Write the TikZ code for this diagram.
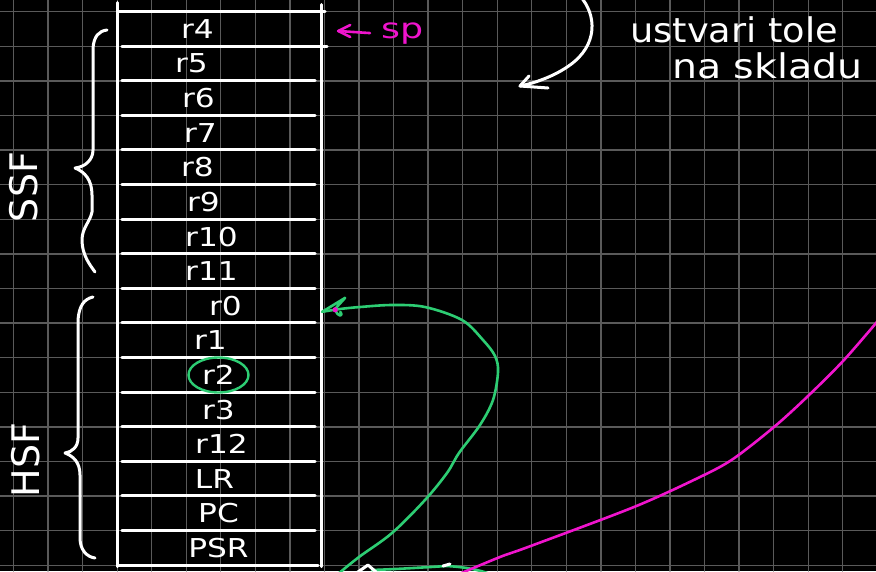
\documentclass[tikz,border=0pt]{standalone}
\usepackage{fontspec}
\usepackage{graphicx}
\newfontfamily\hand{DejaVu Sans}
\usetikzlibrary{shapes.geometric}
\definecolor{gridc}{RGB}{90,90,90}
\definecolor{gr}{RGB}{45,205,115}
\definecolor{mg}{RGB}{240,20,205}
\begin{document}
\begin{tikzpicture}[x=1pt,y=-1pt,line cap=round,line join=round,
  gridline/.style={gridc,line width=1.3pt},
  wline/.style={white,line width=3pt},
  gline/.style={gr,line width=2.6pt},
  mline/.style={mg,line width=2.6pt},
  rowbox/.style={minimum width=203pt,minimum height=34.6pt,inner sep=0pt,draw=none},
  lab/.style={text=white,inner sep=0pt,font=\hand\fontsize{26}{30}\selectfont},
  side/.style={text=white,inner sep=0pt,rotate=90,font=\hand\fontsize{38}{40}\selectfont},
  htext/.style={text=white,inner sep=0pt,font=\hand\fontsize{34}{38}\selectfont},
  sptext/.style={text=mg,inner sep=0pt,font=\hand\fontsize{28}{30}\selectfont},
  gcirc/.style={draw=gr,line width=2.4pt,ellipse,minimum width=60pt,minimum height=35pt,inner sep=0pt}]
\useasboundingbox (0,0) rectangle (876,571);
\fill[black] (0,0) rectangle (876,571);
\begin{scope}
\clip (0,0) rectangle (876,571);
% grid
\foreach \i in {0,...,24} \draw[gridline] ({13.5+34.55*\i},0) -- ({13.5+34.55*\i},571);
\foreach \j in {0,...,16} \draw[gridline] (0,{11.7+34.6*\j}) -- (876,{11.7+34.6*\j});

% stack rows
\foreach \lab/\dx [count=\k from 0] in {r4/-22,r5/-28,r6/-21,r7/-19,r8/-22,r9/-16,r10/-8,r11/-8,r0/6,r1/-9,r2/-1,r3/-1,r12/2,LR/-5,PC/-1,PSR/-1}{
  \node[rowbox] (row\k) at (219.5,{29+34.6*\k}) {};
  \node[lab] (lab\k) at ([xshift=\dx pt]row\k.center) {\scalebox{1.2}[1]{\lab}};
}
% outline
\draw[wline] ([yshift=9pt]row0.north west) -- ([yshift=-1pt]row15.south west);
\draw[wline] ([yshift=7pt]row0.north east) -- ([yshift=-1pt]row15.south east);
\draw[wline] (row0.north west) -- ([xshift=4pt]row0.north east);
\draw[wline] (row15.south west) -- ([xshift=-3pt]row15.south east);
\draw[wline] ([xshift=4pt]row1.north west) -- ([xshift=6pt]row1.north east);
\foreach \k in {2,...,15} \draw[wline] ([xshift=4pt]row\k.north west) -- ([xshift=-6pt]row\k.north east);

% braces and labels
\draw[wline] (107,30) .. controls (99,31) and (94,36) .. (93,48) -- (93,150) .. controls (93,160) and (85,167) .. (75,168) .. controls (85,172) and (92,180) .. (92,195) -- (92,212) .. controls (90,222) and (82,228) .. (82,240) .. controls (82,255) and (90,265) .. (95,272);
\node[side] (ssf) at (24,187) {SSF};
\draw[wline] (93,297) .. controls (84,299) and (79,306) .. (78,320) -- (78,438) .. controls (78,447) and (72,452) .. (65,453) .. controls (73,456) and (80,462) .. (80,475) -- (80,538) .. controls (80,550) and (87,557) .. (95,558);
\node[side] (hsf) at (26,460) {HSF};

% sp pointer
\node[sptext,anchor=base west] (sp) at (381,38) {\scalebox{1.3}[1]{sp}};
\coordinate (spt) at ([xshift=17pt,yshift=-2pt]row0.east);
\draw[mline] ([xshift=-11pt]sp.west) -- (spt);
\draw[mline] ([xshift=12pt,yshift=6pt]spt) -- (spt) -- ([xshift=12pt,yshift=-6pt]spt);

% r2 circle
\node[gcirc] (circ) at (lab10) {};

% green arrow to r0
\coordinate (gs) at (338,574);
\coordinate (gt) at ([xshift=1pt,yshift=-6pt]row8.east);
\draw[gline] plot[smooth,tension=0.55] coordinates {(gs) (359,557) (392,533) (425,500) (447,473) (459,453) (480,425) (493,400) (498,372) (495,356) (483,340) (462,320) (425,307) (392,305) (360,307) (340,309) (gt)};
\draw[gline] (gt) -- ([xshift=23pt,yshift=14pt]gt) -- ([xshift=13pt,yshift=3pt]gt) .. controls ([xshift=15pt,yshift=-6pt]gt) and ([xshift=22pt,yshift=-5pt]gt) .. ([xshift=18pt,yshift=0pt]gt);
\fill[mg] ([xshift=13pt,yshift=2pt]gt) circle (2.6pt);

% bottom fragments
\draw[gline] (372,570) .. controls (400,569) and (430,567) .. (447,566) .. controls (465,567) and (480,570) .. (490,574);
\draw[wline] (355,574) -- (368,565) -- (376,572);
\draw[wline] (443,566) -- (450,564);

% magenta line
\coordinate (ms) at (452,577);
\coordinate (me) at (882,316);
\draw[mline] plot[smooth,tension=0.5] coordinates {(ms) (500,557) (528,547) (634,507) (700,477) (733,459) (774,427) (807,397) (844,360) (me)};

% white curved arrow and note
\coordinate (wa) at (580,-4);
\coordinate (wb) at (520,86);
\draw[wline] (wa) .. controls (597,15) and (598,45) .. (570,65) .. controls (555,76) and (535,83) .. (wb);
\draw[wline] (529,76) -- (wb) -- (548,88);
\node[htext,anchor=base west] (note1) at (630,42) {\scalebox{1.08}[1]{ustvari tole}};
\node[htext,anchor=base west] (note2) at (672,78) {\scalebox{1.16}[1]{na skladu}};
\end{scope}
\end{tikzpicture}
\end{document}
